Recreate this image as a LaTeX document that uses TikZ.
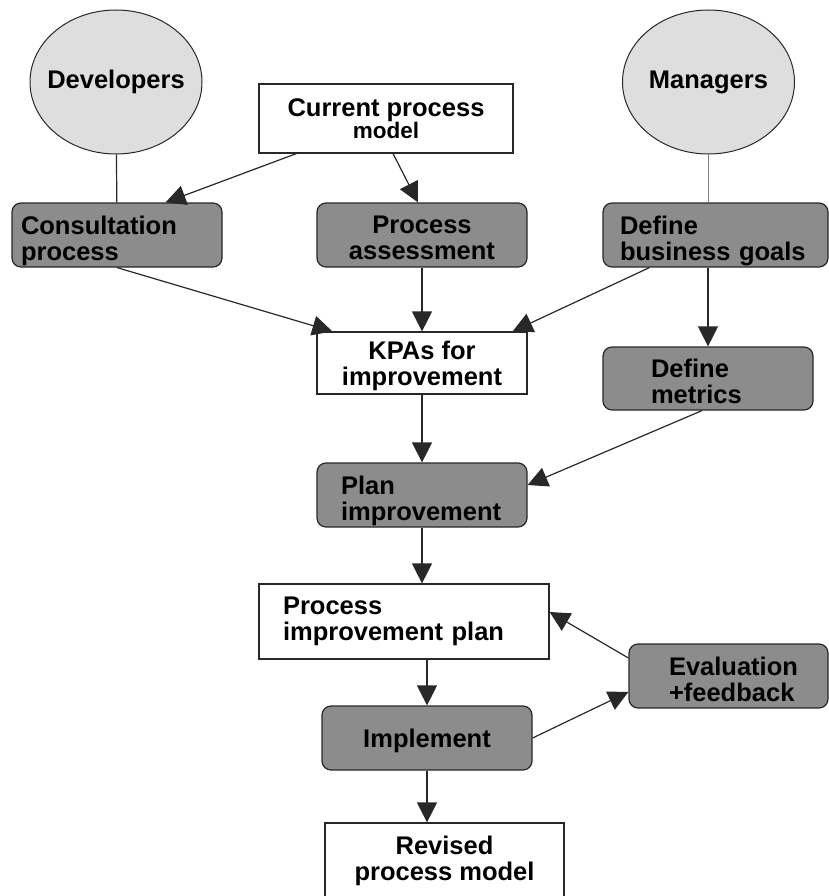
\documentclass[tikz,border=0pt]{standalone}
\usepackage{fontspec}
\setmainfont{Liberation Sans}
\usepackage{tikz}
\usetikzlibrary{arrows.meta,shapes.geometric,positioning}
\definecolor{actorgray}{RGB}{222,222,222}
\definecolor{procgray}{RGB}{140,140,140}
\definecolor{linegray}{RGB}{40,40,40}
\definecolor{midgray}{RGB}{130,130,130}
\hyphenpenalty=10000
\exhyphenpenalty=10000

\begin{document}
\begin{tikzpicture}[x=1pt,y=-1pt,->,>={Triangle[length=20pt,width=20pt]},line width=1.2pt,
    every edge/.append style={draw=linegray},
    txt/.style={font=\bfseries\fontsize{25.5}{26}\selectfont,text=black},
    actor/.style={txt,ellipse,draw=linegray,fill=actorgray,line width=1pt,inner sep=-20pt,minimum width=172pt,minimum height=144pt},
    activity/.style={txt,rectangle,rounded corners=9pt,draw=linegray,fill=procgray,minimum height=64pt,inner ysep=0pt,text depth=20pt},
    artefact/.style={txt,rectangle,draw=linegray,fill=white,inner ysep=0pt},
    lefttext/.style 2 args={align=left,inner xsep=#1,text width=#2}]

    \useasboundingbox (0,0) rectangle (829,896);

    % The actors
    \node [actor] at (116,82) (dev) {Developers};
    \node [actor] at (708.5,82) (mgr) {Managers};

    % The activities and documents
    \node [artefact,minimum width=254pt,minimum height=69pt,align=center] at (386,118.5) (cpm) {Current process\\[-4pt]{\fontsize{22.5}{22.5}\selectfont model}};
    \node [activity,lefttext={9pt}{192pt}] at (117,235) (cons) {Consultation\\process};
    \node [activity,align=center,inner xsep=10pt,text width=190pt] at (422,235) (pa) {Process\\assessment};
    \node [activity,lefttext={17pt}{191pt}] at (715.5,235) (dbg) {Define\\business~goals};
    \node [artefact,minimum width=210pt,minimum height=62pt,align=center,text depth=0pt] at (422,363) (kpa) {KPAs for\\improvement};
    \node [activity,lefttext={48pt}{114pt},minimum height=63pt] at (708,378.5) (met) {Define\\metrics};
    \node [activity,lefttext={24pt}{162pt}] at (422,495) (plan) {Plan\\improvement};
    \node [artefact,lefttext={24pt}{242pt},minimum height=75pt] at (404,621.5) (pip) {Process\\improvement plan};
    \node [activity,lefttext={40pt}{119pt}] at (728.5,676) (eval) {Evaluation\\+feedback};
    \node [activity,minimum width=210pt,align=center,text depth=0pt] at (427,738) (impl) {Implement};
    \node [artefact,minimum width=239pt,minimum height=76pt,align=center] at (444.5,861) (rev) {Revised\\process model};

    % Plain links
    \path[-]
    (dev) edge (cons)
    (mgr.south) edge[draw=midgray] (mgr.south |- dbg.north);

    % Graph edges
    \path[->]
    ([xshift=38pt]cpm.south west) edge ([xshift=-57pt]cons.north east)
    ([xshift=7pt]cpm.south) edge ([xshift=-4pt]pa.north)
    (cons.south) edge ([xshift=16pt]kpa.north west)
    (pa) edge (kpa)
    ([xshift=47pt]dbg.south west) edge ([xshift=-15pt]kpa.north east)
    (dbg.south -| met.north) edge (met.north)
    (kpa) edge (plan)
    ([xshift=-6pt]met.south) edge ([yshift=10pt]plan.east)
    (plan.south) edge (plan.south |- pip.north)
    (impl.north |- pip.south) edge (impl.north)
    (impl.south) edge (impl.south |- rev.north)
    (impl.east) edge ([yshift=-16pt]eval.west)
    ([yshift=18pt]eval.west) edge ([yshift=9.5pt]pip.east);

\end{tikzpicture}
\end{document}
